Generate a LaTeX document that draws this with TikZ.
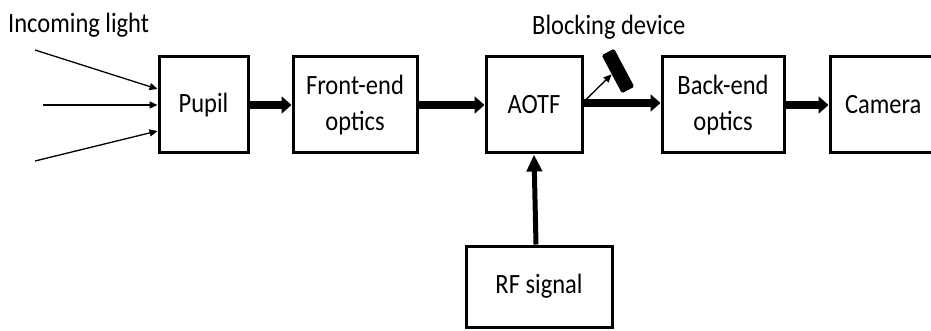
\documentclass[tikz,border=0pt]{standalone}
\usepackage{fontspec}
\setmainfont{Carlito}
\usetikzlibrary{arrows.meta}
\newcommand{\vst}[1]{\scalebox{1}[1.14]{#1}}
\tikzset{
  blk/.style={draw, line width=3pt, inner sep=0pt, align=center,
    font=\fontsize{24.5}{31.6}\selectfont},
  thick arrow/.style={line width=8pt, -{Triangle[length=10pt,width=17pt]}},
  thin arrow/.style={line width=1.3pt, -{Triangle[length=8pt,width=7pt]}},
  rf arrow/.style={line width=5pt, -{Triangle[length=17pt,width=15pt]}},
  lbl/.style={inner sep=0pt, font=\fontsize{24.5}{29}\selectfont}
}
\begin{document}
\begin{tikzpicture}[x=1pt,y=-1pt]
\useasboundingbox (0,0) rectangle (931,331);
\clip (0,0) rectangle (931,331);
\node[blk, minimum width=89pt, minimum height=96pt] (pupil) at (203.5,105) {\vst{Pupil}};
\node[blk, minimum width=124pt, minimum height=96pt] (front) at (355,105) {\vst{\begin{tabular}{@{}c@{}}Front-end\\optics\end{tabular}}};
\node[blk, minimum width=96pt, minimum height=96pt] (aotf) at (534,105) {\vst{AOTF}};
\node[blk, minimum width=122pt, minimum height=96pt] (back) at (723,105) {\vst{\begin{tabular}{@{}c@{}}Back-end\\optics\end{tabular}}};
\node[blk, minimum width=114pt, minimum height=96pt, text width=100pt, align=left] (cam) at (887,105) {\hspace*{8pt}\vst{Camera}};
\node[blk, minimum width=146pt, minimum height=81pt] (rf) at (539,286.5) {\vst{RF signal}};
\node[fill=black, rounded corners=1.5pt, minimum width=43pt, minimum height=14pt, inner sep=0pt, rotate=-62] (block) at (618,71) {};
\node[lbl, anchor=base west] (inc) at (8,33) {\vst{Incoming light}};
\node[lbl, anchor=base west] (bdl) at (532,35) {\vst{Blocking device}};
\coordinate (s1) at (35,50);
\coordinate (s2) at (43,105);
\coordinate (s3) at (35,161);
\draw[thin arrow] (s1) -- ([yshift=16pt]pupil.west);
\draw[thin arrow] (s2) -- (pupil.west);
\draw[thin arrow] (s3) -- ([yshift=-26pt]pupil.west);
\draw[thick arrow] (pupil.east) -- (front.west);
\draw[thick arrow] (front.east) -- (aotf.west);
\draw[thick arrow] ([yshift=2pt]aotf.east) -- ([yshift=2pt]back.west);
\draw[thick arrow] (back.east) -- (cam.west);
\draw[rf arrow] ([xshift=2pt]rf.north -| aotf.south) -- (aotf.south);
\draw[thin arrow] ([yshift=3pt]aotf.east) -- (block.south);
\end{tikzpicture}
\end{document}
